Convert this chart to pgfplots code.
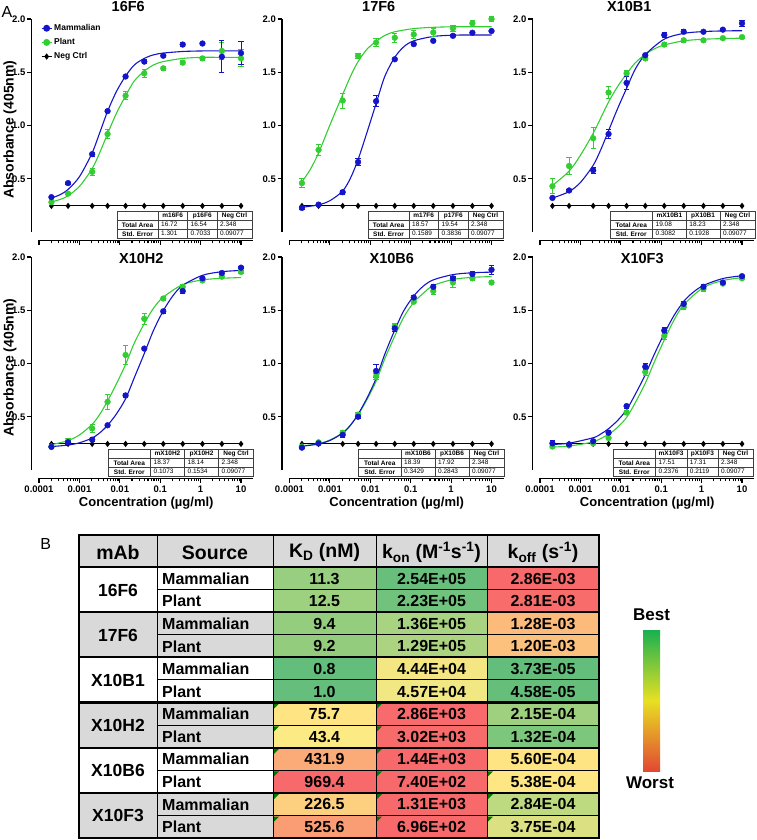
\documentclass[border=0pt]{standalone}
\usepackage{fontspec}
\setmainfont{Liberation Sans}
\usepackage{pgfplots}
\usepackage{pgfplotstable}
\pgfplotsset{compat=1.18}

\definecolor{mblue}{RGB}{20,20,200}
\definecolor{pgreen}{RGB}{50,205,50}
\definecolor{hgray}{RGB}{217,217,217}
\definecolor{flag}{RGB}{0,120,0}
% heat colours, K_D
\definecolor{kd0}{RGB}{152,206,127}\definecolor{kd1}{RGB}{157,208,127}
\definecolor{kd2}{RGB}{149,205,126}\definecolor{kd3}{RGB}{148,204,126}
\definecolor{kd4}{RGB}{99,190,123}\definecolor{kd5}{RGB}{101,190,123}
\definecolor{kd6}{RGB}{254,228,131}\definecolor{kd7}{RGB}{252,234,132}
\definecolor{kd8}{RGB}{251,171,119}\definecolor{kd9}{RGB}{248,105,107}
\definecolor{kd10}{RGB}{253,208,127}\definecolor{kd11}{RGB}{250,157,117}
% k_on
\definecolor{kn0}{RGB}{103,191,123}\definecolor{kn1}{RGB}{112,194,124}
\definecolor{kn2}{RGB}{168,211,128}\definecolor{kn3}{RGB}{172,212,128}
\definecolor{kn4}{RGB}{244,231,131}\definecolor{kn5}{RGB}{241,231,131}
\definecolor{kn6}{RGB}{248,106,107}\definecolor{kn7}{RGB}{248,107,107}
\definecolor{kn8}{RGB}{248,105,107}\definecolor{kn9}{RGB}{248,105,107}
\definecolor{kn10}{RGB}{248,105,107}\definecolor{kn11}{RGB}{248,105,107}
% k_off
\definecolor{kf0}{RGB}{248,105,107}\definecolor{kf1}{RGB}{248,108,107}
\definecolor{kf2}{RGB}{252,187,123}\definecolor{kf3}{RGB}{252,193,124}
\definecolor{kf4}{RGB}{99,190,123}\definecolor{kf5}{RGB}{101,191,123}
\definecolor{kf6}{RGB}{158,208,127}\definecolor{kf7}{RGB}{125,199,125}
\definecolor{kf8}{RGB}{254,228,131}\definecolor{kf9}{RGB}{254,231,131}
\definecolor{kf10}{RGB}{190,218,129}\definecolor{kf11}{RGB}{219,225,130}

% ELISA points: concentration (ug/ml), mammalian mean/err, plant mean/err
\pgfplotstableread{
x        m      me     p      pe
2.03e-4  0.327  0.010  0.280  0.010
5.24e-4  0.459  0.010  0.360  0.010
2.07e-3  0.731  0.020  0.565  0.030
4.98e-3  1.135  0.015  0.920  0.040
1.39e-2  1.460  0.010  1.280  0.040
4.03e-2  1.600  0.020  1.490  0.040
0.119    1.655  0.010  1.537  0.020
0.361    1.760  0.020  1.590  0.020
1.11     1.770  0.005  1.630  0.020
3.36     1.646  0.150  1.700  0.080
10       1.680  0.110  1.630  0.080
}\dA
\pgfplotstableread{
x        m      me     p      pe
2.03e-4  0.226  0.010  0.459  0.040
5.24e-4  0.257  0.010  0.771  0.050
2.07e-3  0.374  0.020  1.234  0.070
4.98e-3  0.657  0.030  1.653  0.020
1.39e-2  1.228  0.050  1.779  0.040
4.03e-2  1.622  0.010  1.824  0.040
0.119    1.764  0.015  1.855  0.040
0.361    1.795  0.010  1.874  0.040
1.11     1.842  0.010  1.912  0.030
3.36     1.871  0.010  1.959  0.030
10       1.887  0.010  2.000  0.020
}\dB
\pgfplotstableread{
x        m      me     p      pe
2.03e-4  0.320  0.010  0.430  0.070
5.24e-4  0.390  0.010  0.620  0.080
2.07e-3  0.580  0.030  0.880  0.100
4.98e-3  0.920  0.040  1.310  0.060
1.39e-2  1.400  0.060  1.490  0.030
4.03e-2  1.660  0.020  1.630  0.020
0.119    1.850  0.020  1.760  0.020
0.361    1.880  0.020  1.800  0.020
1.11     1.880  0.010  1.800  0.010
3.36     1.900  0.010  1.820  0.010
10       1.960  0.030  1.830  0.010
}\dC
\pgfplotstableread{
x        m      me     p      pe
2.03e-4  0.217  0.010  0.220  0.010
5.24e-4  0.260  0.020  0.270  0.030
2.07e-3  0.285  0.020  0.390  0.040
4.98e-3  0.420  0.010  0.640  0.070
1.39e-2  0.700  0.020  1.080  0.090
4.03e-2  1.140  0.010  1.420  0.050
0.119    1.490  0.020  1.610  0.020
0.361    1.680  0.020  1.720  0.020
1.11     1.800  0.010  1.780  0.010
3.36     1.850  0.010  1.815  0.010
10       1.900  0.010  1.860  0.010
}\dD
\pgfplotstableread{
x        m      me     p      pe
2.03e-4  0.210  0.010  0.220  0.010
5.24e-4  0.250  0.010  0.260  0.010
2.07e-3  0.330  0.020  0.350  0.020
4.98e-3  0.500  0.020  0.520  0.020
1.39e-2  0.930  0.060  0.880  0.030
4.03e-2  1.330  0.030  1.350  0.030
0.119    1.620  0.020  1.580  0.020
0.361    1.720  0.020  1.680  0.030
1.11     1.800  0.020  1.760  0.050
3.36     1.840  0.020  1.800  0.020
10       1.880  0.040  1.760  0.020
}\dE
\pgfplotstableread{
x        m      me     p      pe
2.03e-4  0.250  0.030  0.220  0.010
5.24e-4  0.240  0.010  0.230  0.010
2.07e-3  0.270  0.010  0.250  0.010
4.98e-3  0.350  0.020  0.300  0.010
1.39e-2  0.600  0.020  0.540  0.020
4.03e-2  0.970  0.030  0.920  0.030
0.119    1.310  0.030  1.260  0.030
0.361    1.560  0.020  1.530  0.020
1.11     1.720  0.020  1.700  0.020
3.36     1.760  0.010  1.750  0.010
10       1.820  0.010  1.800  0.010
}\dF
\pgfplotstableread{
x        n
2.03e-4  0.245
5.24e-4  0.245
2.07e-3  0.245
4.98e-3  0.245
1.39e-2  0.245
4.03e-2  0.245
0.119    0.245
0.361    0.245
1.11     0.245
3.36     0.245
10       0.245
}\dNeg

\pgfplotsset{
  legend image code/.code={%
    \draw[mark repeat=2,mark phase=2,#1] plot coordinates {(0pt,0pt) (5pt,0pt) (10pt,0pt)};},
  elisa/.style={
    scale only axis, width=221.5pt, height=221.3pt,
    xmin=6.52e-5, xmax=19.8, ymin=-0.078, ymax=2.0,
    axis x line*=bottom, axis y line*=left,
    axis line style={draw=none},
    tick style={black, line width=1.1pt},
    tick align=outside, major tick length=4.5pt, minor tick length=3pt,
    xtick={1e-4,1e-3,1e-2,1e-1,1,10},
    xticklabels={0.0001,0.001,0.01,0.1,1,10},
    minor xtick={2e-4,3e-4,4e-4,5e-4,6e-4,7e-4,8e-4,9e-4,
      2e-3,3e-3,4e-3,5e-3,6e-3,7e-3,8e-3,9e-3,
      0.02,0.03,0.04,0.05,0.06,0.07,0.08,0.09,
      0.2,0.3,0.4,0.5,0.6,0.7,0.8,0.9,2,3,4,5,6,7,8,9},
    ytick={0.5,1,1.5,2}, yticklabels={0.5,1.0,1.5,2.0},
    tick label style={font=\bfseries\fontsize{9.5}{11}\selectfont},
    yticklabel style={inner sep=1.5pt},
    clip=false,
    title style={font=\bfseries\fontsize{14.5}{16}\selectfont, inner sep=0pt},
  },
  toprow/.style={xticklabels={},
    title style={at={(axis description cs:0.5,1)}, anchor=south, xshift=-14pt, yshift=1pt}},
  botrow/.style={
    title style={at={(axis description cs:0.5,1)}, anchor=north, xshift=-1pt, yshift=-2pt},
    xlabel={Concentration (µg/ml)},
    xlabel style={font=\bfseries\fontsize{13}{15}\selectfont, at={(axis description cs:0.5,0)},
      anchor=center, xshift=4pt, yshift=-25pt}},
  leftcol/.style={ylabel={Absorbance (405nm)},
    ylabel style={font=\bfseries\fontsize{14}{16}\selectfont,
      at={(axis description cs:-0.097,0.5)}, anchor=center}},
  mfit/.style={mblue, line width=1.1pt, smooth, forget plot},
  pfit/.style={pgreen, line width=1.1pt, smooth, forget plot},
  negc/.style={black, line width=1.1pt, mark=diamond*, mark size=2.3pt, forget plot},
  pts/.style={only marks, mark=*, mark size=2.9pt, forget plot,
    error bars/y dir=both, error bars/y explicit,
    error bars/error bar style={line width=0.9pt},
    error bars/error mark options={rotate=90, mark size=2.6pt, line width=0.9pt}},
}

% inset table: x0, y0 (top), label width, column width, name, m area, p area, m err, p err
\newcommand{\itable}[9]{%
  \begin{scope}[x=1pt,y=-1pt]
    \pgfmathsetmacro\xa{#1+#3}
    \pgfmathsetmacro\xb{\xa+#4}
    \pgfmathsetmacro\xc{\xb+#4}
    \pgfmathsetmacro\xd{\xc+35}
    \fill[white] (#1,#2) rectangle (\xd,#2+27);
    \draw[line width=0.5pt, black!75] (#1,#2) rectangle (\xd,#2+27)
      (#1,#2+9) -- (\xd,#2+9) (#1,#2+18) -- (\xd,#2+18)
      (\xa,#2) -- (\xa,#2+27) (\xb,#2) -- (\xb,#2+27) (\xc,#2) -- (\xc,#2+27);
    \begin{scope}[every node/.style={font=\fontsize{6.5}{7}\selectfont, inner sep=0pt}]
      \node[font=\bfseries\fontsize{6.5}{7}\selectfont] at ({(\xa+\xb)/2},#2+4.7) {m#5};
      \node[font=\bfseries\fontsize{6.5}{7}\selectfont] at ({(\xb+\xc)/2},#2+4.7) {p#5};
      \node[font=\bfseries\fontsize{6.5}{7}\selectfont] at ({(\xc+\xd)/2},#2+4.7) {Neg Ctrl};
      \node[font=\bfseries\fontsize{6.5}{7}\selectfont] at ({(#1+\xa)/2},#2+13.7) {Total Area};
      \node[font=\bfseries\fontsize{6.5}{7}\selectfont] at ({(#1+\xa)/2},#2+22.7) {Std. Error};
      \node[anchor=west] at (\xa+3,#2+13.7) {#6};
      \node[anchor=west] at (\xb+3,#2+13.7) {#7};
      \node[anchor=west] at (\xc+3,#2+13.7) {2.348};
      \node[anchor=west] at (\xa+3,#2+22.7) {#8};
      \node[anchor=west] at (\xb+3,#2+22.7) {#9};
      \node[anchor=west] at (\xc+3,#2+22.7) {0.09077};
    \end{scope}
  \end{scope}}

\begin{document}
\begin{tikzpicture}
\useasboundingbox (0,0) rectangle (757pt,-840pt);

% ---------------- 16F6
\begin{semilogxaxis}[elisa, toprow, leftcol, title={16F6},
  legend style={draw=none, fill=none, at={(axis description cs:0.038,0.99)}, anchor=north west,
    font=\bfseries\fontsize{8.5}{10}\selectfont, row sep=2.5pt, inner sep=1pt},
  legend cell align=left,
  at={(31.5pt,-240.3pt)}, anchor=south west]
\addlegendimage{mblue, line width=1.1pt, mark=*, mark size=2.9pt}
\addlegendentry{Mammalian}
\addlegendimage{pgreen, line width=1.1pt, mark=*, mark size=2.9pt}
\addlegendentry{Plant}
\addlegendimage{black, line width=1.1pt, mark=diamond*, mark size=2.3pt}
\addlegendentry{Neg Ctrl}
\addplot[negc] table[x=x,y=n]{\dNeg};
\addplot[pfit] coordinates {(2.03e-4,0.283) (3.24e-4,0.304) (5.24e-4,0.340) (1.01e-3,0.430) (2.07e-3,0.595) (3.22e-3,0.749) (4.98e-3,0.923) (8.27e-3,1.115) (1.39e-2,1.279) (2.28e-2,1.418) (4.03e-2,1.510) (6.77e-2,1.568) (0.119,1.600) (0.361,1.630) (1.11,1.640) (3.36,1.640) (10,1.640)};
\addplot[mfit] coordinates {(2.03e-4,0.320) (3.24e-4,0.348) (5.24e-4,0.400) (1.01e-3,0.521) (2.07e-3,0.744) (3.22e-3,0.937) (4.98e-3,1.133) (8.27e-3,1.320) (1.39e-2,1.464) (2.28e-2,1.568) (4.03e-2,1.630) (6.77e-2,1.663) (0.119,1.680) (0.361,1.695) (1.11,1.700) (3.36,1.700) (10,1.700)};
\addplot[pts, pgreen] table[x=x,y=p,y error=pe]{\dA};
\addplot[pts, mblue] table[x=x,y=m,y error=me]{\dA};
\end{semilogxaxis}

% ---------------- 17F6
\begin{semilogxaxis}[elisa, toprow, title={17F6}, at={(282pt,-240.3pt)}, anchor=south west]
\addplot[negc] table[x=x,y=n]{\dNeg};
\addplot[pfit] coordinates {(2.03e-4,0.470) (3.24e-4,0.585) (5.24e-4,0.742) (1.01e-3,1.008) (2.07e-3,1.290) (3.22e-3,1.460) (4.98e-3,1.600) (8.27e-3,1.716) (1.39e-2,1.790) (2.28e-2,1.845) (4.03e-2,1.880) (0.119,1.910) (0.361,1.922) (1.11,1.927) (3.36,1.927) (10,1.927)};
\addplot[mfit] coordinates {(2.03e-4,0.232) (5.24e-4,0.255) (1.01e-3,0.295) (2.07e-3,0.385) (3.22e-3,0.505) (4.98e-3,0.680) (8.27e-3,0.935) (1.39e-2,1.205) (2.28e-2,1.460) (4.03e-2,1.640) (6.77e-2,1.740) (0.119,1.795) (0.361,1.836) (1.11,1.848) (3.36,1.850) (10,1.850)};
\addplot[pts, pgreen] table[x=x,y=p,y error=pe]{\dB};
\addplot[pts, mblue] table[x=x,y=m,y error=me]{\dB};
\end{semilogxaxis}

% ---------------- X10B1
\begin{semilogxaxis}[elisa, toprow, title={X10B1}, at={(532.5pt,-240.3pt)}, anchor=south west]
\addplot[negc] table[x=x,y=n]{\dNeg};
\addplot[pfit] coordinates {(2.03e-4,0.437) (5.24e-4,0.571) (1.01e-3,0.723) (2.07e-3,0.927) (3.22e-3,1.074) (4.98e-3,1.221) (8.27e-3,1.364) (1.39e-2,1.485) (2.28e-2,1.589) (4.03e-2,1.668) (6.77e-2,1.720) (0.119,1.756) (0.361,1.795) (1.11,1.810) (3.36,1.816) (10,1.820)};
\addplot[mfit] coordinates {(2.03e-4,0.319) (5.24e-4,0.379) (1.01e-3,0.467) (2.07e-3,0.626) (3.22e-3,0.776) (4.98e-3,0.951) (8.27e-3,1.156) (1.39e-2,1.349) (2.28e-2,1.529) (4.03e-2,1.665) (0.119,1.811) (0.361,1.865) (1.11,1.882) (3.36,1.888) (10,1.890)};
\addplot[pts, pgreen] table[x=x,y=p,y error=pe]{\dC};
\addplot[pts, mblue] table[x=x,y=m,y error=me]{\dC};
\end{semilogxaxis}

% ---------------- X10H2
\begin{semilogxaxis}[elisa, botrow, leftcol, title={X10H2}, at={(31.5pt,-478.3pt)}, anchor=south west]
\addplot[negc] table[x=x,y=n]{\dNeg};
\addplot[pfit] coordinates {(2.03e-4,0.238) (5.24e-4,0.276) (1.01e-3,0.330) (2.07e-3,0.429) (3.22e-3,0.525) (4.98e-3,0.648) (8.27e-3,0.810) (1.39e-2,0.991) (2.28e-2,1.191) (4.03e-2,1.375) (6.77e-2,1.517) (0.119,1.623) (0.361,1.741) (1.11,1.785) (3.36,1.800) (10,1.807)};
\addplot[mfit] coordinates {(2.03e-4,0.220) (5.24e-4,0.234) (1.01e-3,0.256) (2.07e-3,0.300) (3.22e-3,0.350) (4.98e-3,0.420) (8.27e-3,0.527) (1.39e-2,0.669) (2.28e-2,0.866) (4.03e-2,1.093) (6.77e-2,1.308) (0.119,1.495) (0.206,1.636) (0.361,1.734) (1.11,1.828) (3.36,1.862) (10,1.874)};
\addplot[pts, pgreen] table[x=x,y=p,y error=pe]{\dD};
\addplot[pts, mblue] table[x=x,y=m,y error=me]{\dD};
\end{semilogxaxis}

% ---------------- X10B6
\begin{semilogxaxis}[elisa, botrow, title={X10B6}, at={(282pt,-478.3pt)}, anchor=south west]
\addplot[negc] table[x=x,y=n]{\dNeg};
\addplot[pfit] coordinates {(2.03e-4,0.225) (5.24e-4,0.248) (1.01e-3,0.283) (2.07e-3,0.350) (3.22e-3,0.421) (4.98e-3,0.519) (8.27e-3,0.661) (1.39e-2,0.833) (2.28e-2,1.044) (4.03e-2,1.258) (6.77e-2,1.437) (0.119,1.574) (0.206,1.660) (0.361,1.732) (1.11,1.789) (3.36,1.809) (10,1.816)};
\addplot[mfit] coordinates {(2.03e-4,0.223) (5.24e-4,0.244) (1.01e-3,0.278) (2.07e-3,0.346) (3.22e-3,0.420) (4.98e-3,0.523) (8.27e-3,0.675) (1.39e-2,0.860) (2.28e-2,1.087) (4.03e-2,1.314) (6.77e-2,1.497) (0.119,1.634) (0.206,1.727) (0.361,1.785) (1.11,1.835) (3.36,1.852) (10,1.858)};
\addplot[pts, pgreen] table[x=x,y=p,y error=pe]{\dE};
\addplot[pts, mblue] table[x=x,y=m,y error=me]{\dE};
\end{semilogxaxis}

% ---------------- X10F3
\begin{semilogxaxis}[elisa, botrow, title={X10F3}, at={(532.5pt,-478.3pt)}, anchor=south west]
\addplot[negc] table[x=x,y=n]{\dNeg};
\addplot[pfit] coordinates {(2.03e-4,0.216) (5.24e-4,0.225) (2.07e-3,0.265) (4.98e-3,0.336) (8.27e-3,0.400) (1.39e-2,0.493) (2.28e-2,0.632) (4.03e-2,0.814) (6.77e-2,1.015) (0.119,1.221) (0.206,1.405) (0.361,1.552) (1.11,1.714) (3.36,1.779) (10,1.806)};
\addplot[mfit] coordinates {(2.03e-4,0.240) (5.24e-4,0.252) (2.07e-3,0.303) (3.22e-3,0.339) (4.98e-3,0.388) (8.27e-3,0.464) (1.39e-2,0.565) (2.28e-2,0.711) (4.03e-2,0.894) (6.77e-2,1.088) (0.119,1.281) (0.206,1.449) (0.361,1.583) (0.596,1.664) (1.11,1.733) (3.36,1.798) (10,1.824)};
\addplot[pts, pgreen] table[x=x,y=p,y error=pe]{\dF};
\addplot[pts, mblue] table[x=x,y=m,y error=me]{\dF};
\end{semilogxaxis}

% inset tables
\itable{117}{211}{41}{29.5}{16F6}{16.72}{16.54}{1.301}{0.7033}
\itable{368}{211}{41}{29.5}{17F6}{18.57}{19.54}{0.1589}{0.3836}
\itable{610}{211}{42.5}{33.75}{X10B1}{19.08}{18.23}{0.3082}{0.1928}
\itable{108}{449}{42.5}{34}{X10H2}{18.37}{18.14}{0.1073}{0.1534}
\itable{358.5}{449}{42.5}{34}{X10B6}{18.39}{17.92}{0.3429}{0.2843}
\itable{613}{449}{42.5}{31.25}{X10F3}{17.51}{17.31}{0.2376}{0.2119}

\begin{scope}[x=1pt,y=-1pt]
  % Prism-style offset axis lines (y from 0 to 2.0, x from 0.0001)
  \foreach \L in {31.5,282,532.5}{
    \foreach \B in {240.3,478.3}{
      \draw[line width=1.4pt] (\L,\B-8.3) -- (\L,\B-221.3);
      \draw[line width=1.4pt] (\L+7.5,\B) -- (\L+221.5,\B);
    }
  }

  \node[font=\fontsize{16}{18}\selectfont, inner sep=0pt] at (7,11.5) {A};
  \node[font=\fontsize{16}{18}\selectfont, inner sep=0pt] at (45.7,543.5) {B};

  % ---------------- table B
  \fill[hgray] (79,535) rectangle (599,567);
  \fill[hgray] (79,612.2) rectangle (273,657.3);
  \fill[hgray] (79,702.5) rectangle (273,747.7);
  \fill[hgray] (79,792.8) rectangle (273,838);
  \foreach \i/\src/\kd/\kn/\kf in {0/Mammalian/11.3/2.54E+05/2.86E-03, 1/Plant/12.5/2.23E+05/2.81E-03,
      2/Mammalian/9.4/1.36E+05/1.28E-03, 3/Plant/9.2/1.29E+05/1.20E-03,
      4/Mammalian/0.8/4.44E+04/3.73E-05, 5/Plant/1.0/4.57E+04/4.58E-05,
      6/Mammalian/75.7/2.86E+03/2.15E-04, 7/Plant/43.4/3.02E+03/1.32E-04,
      8/Mammalian/431.9/1.44E+03/5.60E-04, 9/Plant/969.4/7.40E+02/5.38E-04,
      10/Mammalian/226.5/1.31E+03/2.84E-04, 11/Plant/525.6/6.96E+02/3.75E-04}{
    \pgfmathsetmacro\ya{567+22.583*\i}
    \pgfmathsetmacro\ym{\ya+11.6}
    \fill[fill=kd\i] (273,\ya) rectangle (376,\ya+22.583);
    \fill[fill=kn\i] (376,\ya) rectangle (487,\ya+22.583);
    \fill[fill=kf\i] (487,\ya) rectangle (599,\ya+22.583);
    \begin{scope}[every node/.style={font=\bfseries\fontsize{16}{18}\selectfont, inner sep=0pt}]
      \node[anchor=west] at (162,\ym) {\src};
      \node at (324.5,\ym) {\kd};
      \node at (431.5,\ym) {\kn};
      \node at (543,\ym) {\kf};
    \end{scope}
  }
  % text-as-number flags
  \foreach \cx/\i in {273/6,273/7,273/8,273/9,273/10,273/11,376/6,376/7,376/8,376/9,376/10,376/11,487/9,487/10,487/11}{
    \pgfmathsetmacro\ya{567+22.583*\i}
    \fill[flag] (\cx+1.2,\ya+1.2) -- (\cx+6,\ya+1.2) -- (\cx+1.2,\ya+6) -- cycle;
  }
  \begin{scope}[every node/.style={font=\bfseries\fontsize{17.5}{19}\selectfont, inner sep=0pt}]
    \foreach \g/\nm in {0/16F6,1/17F6,2/X10B1,3/X10H2,4/X10B6,5/X10F3}{
      \node at (118,{567+45.167*\g+23}) {\nm};
    }
  \end{scope}
  \begin{scope}[every node/.style={font=\bfseries\fontsize{19.5}{21}\selectfont, inner sep=0pt}]
    \node at (118,552.5) {mAb};
    \node at (215,552.5) {Source};
    \node at (324.5,552.5) {K\textsubscript{D} (nM)};
    \node at (431.5,552.5) {k\textsubscript{on} (M\textsuperscript{-1}s\textsuperscript{-1})};
    \node at (543,552.5) {k\textsubscript{off} (s\textsuperscript{-1})};
  \end{scope}
  % grid lines
  \foreach \i in {1,3,5,7,9,11}{
    \draw[line width=1pt] (157,{567+22.583*\i}) -- (599,{567+22.583*\i});
  }
  \foreach \i in {0,2,4,6,8,10}{
    \draw[line width=2.2pt] (79,{567+22.583*\i}) -- (599,{567+22.583*\i});
  }
  \draw[line width=1pt] (157,535) -- (157,838) (273,535) -- (273,838)
    (376,535) -- (376,838) (487,535) -- (487,838);
  \draw[line width=2.2pt] (79,535) rectangle (599,838);

  % colour key
  \shade[top color={rgb,255:red,25;green,176;blue,80},
    bottom color={rgb,255:red,226;green,72;blue,50},
    middle color={rgb,255:red,232;green,224;blue,35}] (643,630) rectangle (660,771);
  \node[font=\bfseries\fontsize{17}{19}\selectfont, inner sep=0pt] at (651.5,615) {Best};
  \node[font=\bfseries\fontsize{17}{19}\selectfont, inner sep=0pt] at (650,783) {Worst};
\end{scope}
\end{tikzpicture}
\end{document}
